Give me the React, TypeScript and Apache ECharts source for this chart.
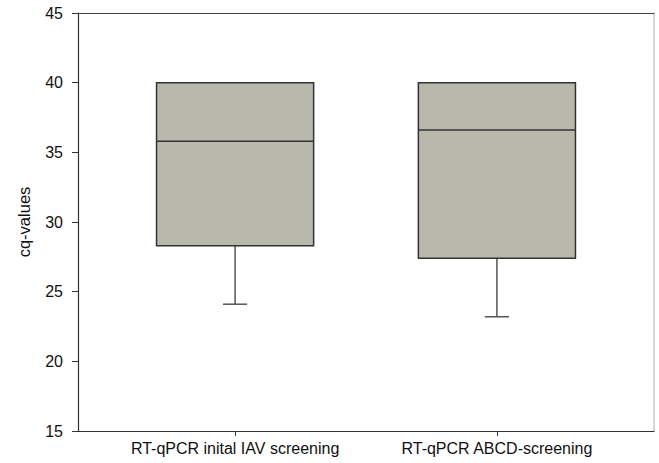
import React, { useEffect, useRef } from "react";
import * as echarts from "echarts";

const categories = ["RT-qPCR inital IAV screening", "RT-qPCR ABCD-screening"];
const categoryPositions = [1, 2];
const whiskerLow = [24.1, 23.2];
const quartile1 = [28.3, 27.4];
const medians = [35.8, 36.6];
const quartile3 = [40, 40];
const whiskerHigh = [40, 40];
const yTicks = [15, 20, 25, 30, 35, 40, 45];

const FONT = "'Liberation Sans', Arial, sans-serif";

export default function App() {
  const ref = useRef<HTMLDivElement>(null);
  useEffect(() => {
    if (!ref.current) return;
    const chart = echarts.init(ref.current, null, { renderer: "svg" });
    const data = categoryPositions.map((p, i) => [
      p,
      whiskerLow[i],
      quartile1[i],
      medians[i],
      quartile3[i],
      whiskerHigh[i],
    ]);
    const boxWidthUnits = 0.6;
    const capWidthUnits = 0.092;
    chart.setOption({
      animation: false,
      backgroundColor: "#ffffff",
      grid: { left: 78, right: 5, top: 13, bottom: 32 },
      xAxis: [
        {
          type: "value",
          position: "bottom",
          min: 0.4,
          max: 2.6,
          axisLine: { show: true, lineStyle: { color: "#333", width: 1.2 } },
          axisTick: {
            show: true,
            customValues: categoryPositions,
            length: 5,
            lineStyle: { color: "#333", width: 1 },
          },
          axisLabel: {
            show: true,
            customValues: categoryPositions,
            formatter: (v: number) => {
              const idx = categoryPositions.indexOf(Math.round(v));
              return idx >= 0 ? categories[idx] : "";
            },
            fontFamily: FONT,
            fontSize: 16,
            color: "#111",
            margin: 9,
          },
          splitLine: { show: false },
        },
        {
          type: "value",
          position: "top",
          min: 0.4,
          max: 2.6,
          axisLine: { show: true, lineStyle: { color: "#444", width: 1.2 } },
          axisTick: { show: false },
          axisLabel: { show: false },
          splitLine: { show: false },
        },
      ],
      yAxis: [
        {
          type: "value",
          position: "left",
          min: yTicks[0],
          max: yTicks[yTicks.length - 1],
          interval: 5,
          name: "cq-values",
          nameLocation: "middle",
          nameGap: 46,
          nameTextStyle: { fontFamily: FONT, fontSize: 16.5, color: "#111" },
          axisLine: { show: true, lineStyle: { color: "#333", width: 1.2 } },
          axisTick: { show: true, length: 6, lineStyle: { color: "#333", width: 1 } },
          axisLabel: { fontFamily: FONT, fontSize: 16, color: "#111", margin: 15 },
          splitLine: { show: false },
        },
        {
          type: "value",
          position: "right",
          min: yTicks[0],
          max: yTicks[yTicks.length - 1],
          axisLine: { show: true, lineStyle: { color: "#c8c8c8", width: 1.5 } },
          axisTick: { show: false },
          axisLabel: { show: false },
          splitLine: { show: false },
        },
      ],
      series: [
        {
          type: "custom",
          xAxisIndex: 0,
          yAxisIndex: 0,
          data,
          renderItem: (params: any, api: any) => {
            const x = api.value(0);
            const lo = api.value(1);
            const q1 = api.value(2);
            const med = api.value(3);
            const q3 = api.value(4);
            const hi = api.value(5);
            const w = api.size([boxWidthUnits, 0])[0];
            const cw = api.size([capWidthUnits, 0])[0];
            const pQ1 = api.coord([x, q1]);
            const pQ3 = api.coord([x, q3]);
            const pMed = api.coord([x, med]);
            const pLo = api.coord([x, lo]);
            const pHi = api.coord([x, hi]);
            const cx = pQ1[0];
            const lineStyle = { stroke: "#333", lineWidth: 1.5 };
            const whiskerStyle = { stroke: "#555", lineWidth: 1.5 };
            return {
              type: "group",
              children: [
                {
                  type: "line",
                  shape: { x1: cx, y1: pQ1[1], x2: cx, y2: pLo[1] },
                  style: whiskerStyle,
                },
                {
                  type: "line",
                  shape: { x1: cx - cw / 2, y1: pLo[1], x2: cx + cw / 2, y2: pLo[1] },
                  style: whiskerStyle,
                },
                {
                  type: "line",
                  shape: { x1: cx, y1: pQ3[1], x2: cx, y2: pHi[1] },
                  style: whiskerStyle,
                },
                {
                  type: "rect",
                  shape: { x: cx - w / 2, y: pQ3[1], width: w, height: pQ1[1] - pQ3[1] },
                  style: { fill: "#b8b8ac", stroke: "#333", lineWidth: 1.5 },
                },
                {
                  type: "line",
                  shape: { x1: cx - w / 2, y1: pMed[1], x2: cx + w / 2, y2: pMed[1] },
                  style: lineStyle,
                },
              ],
            };
          },
        },
      ],
    });
    return () => chart.dispose();
  }, []);
  return <div ref={ref} style={{ width: 659, height: 463, position: "absolute", left: 0, top: 0 }} />;
}
